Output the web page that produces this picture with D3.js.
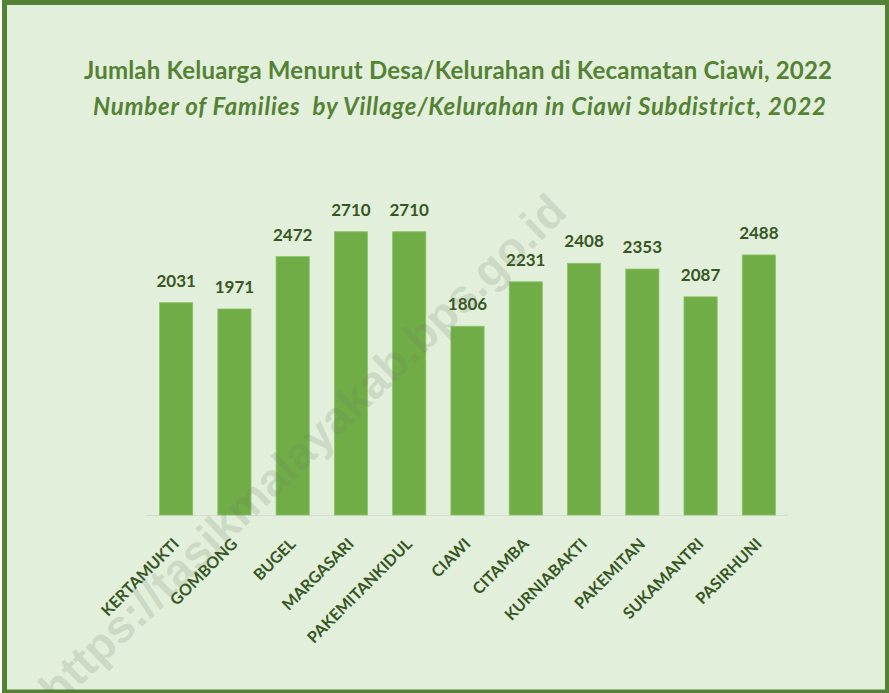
<!DOCTYPE html>
<html>
<head>
<meta charset="utf-8">
<script src="https://cdn.jsdelivr.net/npm/d3@7"></script>
<style>
  html, body { margin: 0; padding: 0; background: #fff; }
  svg { display: block; }
</style>
</head>
<body>
<svg id="chart"></svg>
<script>
const width = 889;
const height = 693;

// data
const villages = ['KERTAMUKTI', 'GOMBONG', 'BUGEL', 'MARGASARI', 'PAKEMITANKIDUL', 'CIAWI',
                  'CITAMBA', 'KURNIABAKTI', 'PAKEMITAN', 'SUKAMANTRI', 'PASIRHUNI'];
const families = [2031, 1971, 2472, 2710, 2710, 1806, 2231, 2408, 2353, 2087, 2488];
const titleId = 'Jumlah Keluarga Menurut Desa/Kelurahan di Kecamatan Ciawi, 2022';
const titleEn = 'Number of Families  by Village/Kelurahan in Ciawi Subdistrict, 2022';
const watermark = 'https://tasikmalayakab.bps.go.id';

const svg = d3.select('#chart')
              .attr('width', width)
              .attr('height', height);

// background + frame
svg.append('rect')
   .attr('x', 4.5)
   .attr('y', 2.5)
   .attr('width', 883)
   .attr('height', 689.5)
   .attr('fill', '#e2efda');

// titles
svg.append('text')
   .attr('x', 458)
   .attr('y', 79)
   .attr('text-anchor', 'middle')
   .attr('font-family', 'Lato, sans-serif')
   .attr('font-weight', 'bold')
   .attr('font-size', 24)
   .attr('textLength', 748)
   .attr('lengthAdjust', 'spacing')
   .attr('fill', '#548235')
   .text(titleId);

svg.append('text')
   .attr('x', 459.5)
   .attr('y', 115)
   .attr('text-anchor', 'middle')
   .attr('font-family', 'Lato, sans-serif')
   .attr('font-weight', 'bold')
   .attr('font-style', 'italic')
   .attr('font-size', 24)
   .attr('textLength', 733)
   .attr('lengthAdjust', 'spacing')
   .attr('fill', '#548235')
   .style('white-space', 'pre')
   .text(titleEn);

const x = d3.scaleBand()
            .domain(villages)
            .range([147, 788])
            .paddingInner(0.43)
            .paddingOuter(0.215);

const y = d3.scaleLinear()
            .domain([0, 3000])
            .range([515, 201.4]);

// axis line
svg.append('line')
   .attr('x1', 147)
   .attr('x2', 788)
   .attr('y1', y(0) + 0.5)
   .attr('y2', y(0) + 0.5)
   .attr('stroke', '#d9d9d9')
   .attr('stroke-width', 1);

// bars
const data = villages.map(function(v, i) {
    return { name: v, value: families[i] };
});

svg.append('g')
   .selectAll('rect')
   .data(data)
   .join('rect')
   .attr('x', function(d) { return x(d.name); })
   .attr('y', function(d) { return y(d.value); })
   .attr('width', x.bandwidth())
   .attr('height', function(d) { return y(0) - y(d.value); })
   .attr('fill', '#70ad47')
   .attr('stroke', '#8fc46a')
   .attr('stroke-width', 0.8);

// value labels
svg.append('g')
   .selectAll('text')
   .data(data)
   .join('text')
   .attr('x', function(d) { return x(d.name) + x.bandwidth() / 2; })
   .attr('y', function(d) { return y(d.value) - 16; })
   .attr('text-anchor', 'middle')
   .attr('font-family', 'Lato, sans-serif')
   .attr('font-weight', 'bold')
   .attr('font-size', 17)
   .attr('fill', '#375623')
   .text(function(d) { return d.value; });

// category labels
svg.append('g')
   .selectAll('text')
   .data(villages)
   .join('text')
   .attr('transform', function(d) {
       return 'translate(' + (x(d) + x.bandwidth() / 2 + 4) + ',' + 545 + ') rotate(-45)';
   })
   .attr('text-anchor', 'end')
   .attr('font-family', 'Lato, sans-serif')
   .attr('font-weight', 'bold')
   .attr('font-size', 16)
   .attr('fill', '#375623')
   .text(function(d) { return d; });

// watermark
svg.append('text')
   .attr('transform', 'translate(569,214) rotate(-44)')
   .attr('text-anchor', 'end')
   .attr('font-family', 'Liberation Sans, Arial, sans-serif')
   .attr('font-weight', 'bold')
   .attr('font-size', 46)
   .attr('fill', '#6f7f6c')
   .attr('fill-opacity', 0.2)
   .text(watermark);

// frame on top so watermark stays inside
svg.append('rect')
   .attr('x', 4.5)
   .attr('y', 2.5)
   .attr('width', 883)
   .attr('height', 689.5)
   .attr('fill', 'none')
   .attr('stroke', '#548235')
   .attr('stroke-width', 5);
</script>
</body>
</html>
